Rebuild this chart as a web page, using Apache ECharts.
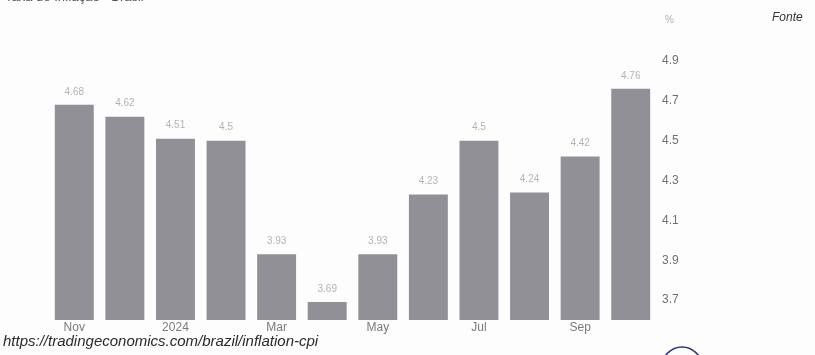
<!DOCTYPE html>
<html>
<head>
<meta charset="utf-8">
<script src="https://cdn.jsdelivr.net/npm/echarts@6/dist/echarts.min.js"></script>
<style>html,body{margin:0;padding:0;background:#fff;}#c{width:815px;height:355px;}</style>
</head>
<body>
<div id="c"></div>
<script>
const categories = ["Nov", "Dec", "2024", "Feb", "Mar", "Apr", "May", "Jun", "Jul", "Aug", "Sep", "Oct"];
const values = [4.68, 4.62, 4.51, 4.5, 3.93, 3.69, 3.93, 4.23, 4.5, 4.24, 4.42, 4.76];
const yTickLabels = [3.7, 3.9, 4.1, 4.3, 4.5, 4.7, 4.9];

const chart = echarts.init(document.getElementById('c'), null, {renderer: 'canvas'});
chart.setOption({
  backgroundColor: '#fdfdfd',
  animation: false,
  grid: {left: 49, right: 159, top: 41, bottom: 35},
  xAxis: {
    type: 'category',
    data: categories,
    axisLine: {show: false},
    axisTick: {show: false},
    axisLabel: {interval: 1, color: '#7a7a7a', fontSize: 12, fontFamily: 'Liberation Sans, Arial', margin: 2}
  },
  yAxis: {
    type: 'value',
    position: 'right',
    min: 3.6,
    max: 5.0,
    interval: 0.1,
    splitLine: {show: false},
    axisLine: {show: false},
    axisTick: {show: false},
    axisLabel: {
      color: '#707070', fontSize: 12, fontFamily: 'Liberation Sans, Arial', margin: 6,
      formatter: function (v) {
        const r = Math.round(v * 10) / 10;
        return yTickLabels.indexOf(r) >= 0 ? r.toFixed(1) : '';
      }
    }
  },
  series: [{
    type: 'bar',
    data: values,
    barCategoryGap: '23%',
    itemStyle: {color: '#919097'},
    label: {
      show: true, position: 'top', distance: 8,
      color: '#b4b4b4', fontSize: 10, fontFamily: 'Liberation Sans, Arial',
      formatter: function (p) { return String(p.value); }
    }
  }],
  graphic: [
    {type: 'text', left: 5, top: -9, style: {text: 'Taxa de Inflação - Brasil', fill: '#555', font: '13px Liberation Sans, Arial'}},
    {type: 'text', left: 665, top: 15, style: {text: '%', fill: '#b0b0b0', font: '10px Liberation Sans, Arial'}},
    {type: 'text', left: 772, top: 12, style: {text: 'Fonte', fill: '#333', font: 'italic 12px Liberation Sans, Arial'}},
    {type: 'text', left: 3, top: 334, style: {text: 'https://tradingeconomics.com/brazil/inflation-cpi', fill: '#2a2a2a', font: 'italic 15px Liberation Sans, Arial'}},
    {type: 'circle', shape: {cx: 682, cy: 367, r: 20}, style: {fill: 'none', stroke: '#2f3479', lineWidth: 1.5}}
  ]
});
</script>
</body>
</html>
